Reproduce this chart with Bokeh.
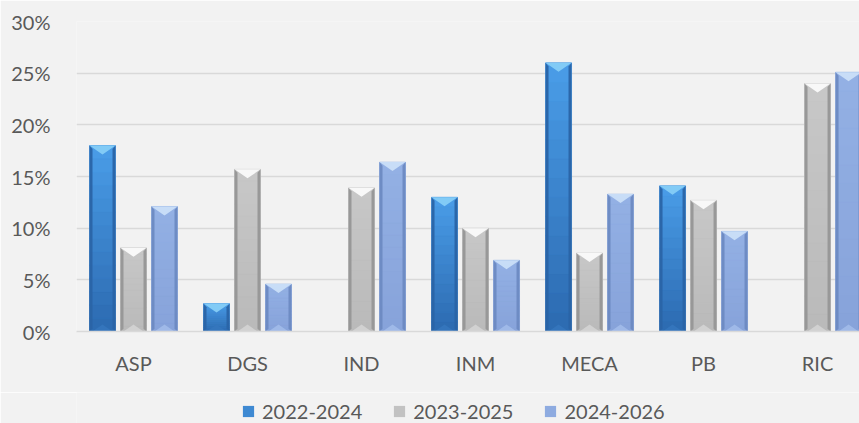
import numpy as np
from bokeh.plotting import figure
from bokeh.layouts import column
from bokeh.models import (Range1d, FixedTicker, NumeralTickFormatter, Legend,
                          LegendItem)
from bokeh.embed import file_html
from bokeh.resources import INLINE

categories = ["ASP", "DGS", "IND", "INM", "MECA", "PB", "RIC"]
series_names = ["2022-2024", "2023-2025", "2024-2026"]
v2022 = [0.180, 0.027, 0.0, 0.130, 0.260, 0.141, 0.0]
v2023 = [0.081, 0.157, 0.139, 0.100, 0.076, 0.127, 0.240]
v2024 = [0.121, 0.046, 0.164, 0.069, 0.133, 0.097, 0.251]
y_ticks = [0.0, 0.05, 0.10, 0.15, 0.20, 0.25, 0.30]

# styles: (top colour, bottom colour, top facet, side facet, bottom facet)
styles = [
    ("#4a9de8", "#2c6ab0", "#86cdf7", "#2a64a6", "#3576bd"),
    ("#c8c8c8", "#b9b9b9", "#fbfbfb", "#969696", "#d2d2d2"),
    ("#93b0e4", "#87a3da", "#cadff8", "#6d8ac2", "#a0bbe9"),
]

FRAME_W = 783
FRAME_H = 310
X_END = 6.868
Y_END = 0.30
px_x = X_END / FRAME_W
px_y = Y_END / FRAME_H
bar_w = 26 * px_x
offsets = [-31 * px_x, 0.0, 31 * px_x]

FONT = "Lato"
TXT = "#595959"
BG = "#f2f2f2"

p = figure(width=859, height=392, output_backend="svg", toolbar_location=None,
           x_range=Range1d(0, X_END), y_range=Range1d(0, Y_END),
           min_border_left=76, min_border_right=0, min_border_top=21,
           min_border_bottom=61)
p.background_fill_color = BG
p.border_fill_color = BG
p.outline_line_color = None

p.xgrid.visible = False
p.ygrid.grid_line_color = "#d9d9d9"
p.ygrid.grid_line_width = 1.5
p.ygrid.ticker = FixedTicker(ticks=y_ticks)

p.yaxis.ticker = FixedTicker(ticks=y_ticks)
p.yaxis.formatter = NumeralTickFormatter(format="0%")
p.yaxis.axis_line_color = None
p.yaxis.major_tick_line_color = None
p.yaxis.minor_tick_line_color = None
p.yaxis.major_label_standoff = 20
p.yaxis.major_label_text_font = FONT
p.yaxis.major_label_text_font_size = "20px"
p.yaxis.major_label_text_color = TXT

p.xaxis.ticker = FixedTicker(ticks=[i + 0.5 for i in range(len(categories))])
p.xaxis.major_label_overrides = {i + 0.5: c for i, c in enumerate(categories)}
p.xaxis.axis_line_color = "#d9d9d9"
p.xaxis.axis_line_width = 1.5
p.xaxis.major_tick_line_color = None
p.xaxis.minor_tick_line_color = None
p.xaxis.major_label_standoff = 13
p.xaxis.major_label_text_font = FONT
p.xaxis.major_label_text_font_size = "20px"
p.xaxis.major_label_text_color = TXT


def mix(c1, c2, t):
    a = [int(c1[i:i + 2], 16) for i in (1, 3, 5)]
    b = [int(c2[i:i + 2], 16) for i in (1, 3, 5)]
    return "#%02x%02x%02x" % tuple(int(round(a[k] + (b[k] - a[k]) * t)) for k in range(3))


# legend strip figure (its frame is aligned with the main frame)
pl = figure(width=859, height=31, output_backend="svg", toolbar_location=None,
            x_range=Range1d(0, 1), y_range=Range1d(0, 1),
            x_axis_location=None, y_axis_location=None,
            min_border_left=0, min_border_right=0, min_border_top=0,
            min_border_bottom=0)
pl.background_fill_color = BG
pl.border_fill_color = BG
pl.outline_line_color = None
pl.xgrid.visible = False
pl.ygrid.visible = False

legend_items = []
NB = 14
for k, (name, vals) in enumerate(zip(series_names, [v2022, v2023, v2024])):
    ctop, cbot, ftop, fside, fbot = styles[k]
    xs_c = [i + 0.5 + offsets[k] for i in range(len(categories))]
    p.vbar(x=xs_c, top=vals, width=bar_w, bottom=0,
           fill_color=mix(ctop, cbot, 0.5), line_color=None)
    # off-range proxy renderer, only used to draw the legend swatch
    lr = pl.vbar(x=[-10], top=[-10], bottom=[-11], width=0.1,
                 fill_color=mix(ctop, cbot, 0.4), line_color=None)
    legend_items.append(LegendItem(label=name, renderers=[lr]))

    ql, qr, qb, qt, qc = [], [], [], [], []
    pxs, pys, pcs = [], [], []
    for x, v in zip(xs_c, vals):
        if v <= 0:
            continue
        x0, x1 = x - bar_w / 2, x + bar_w / 2
        for b in range(NB):
            y0 = v * b / NB
            y1 = v * (b + 1) / NB
            ql.append(x0); qr.append(x1); qb.append(y0); qt.append(y1)
            qc.append(mix(cbot, ctop, (b + 0.5) / NB))
        sw = 3 * px_x
        th = min(9 * px_y, v * 0.45)
        bh = min(7 * px_y, v * 0.3)
        pxs.append([x0, x0 + sw, x0 + sw, x0]); pys.append([0, bh * 0.4, v - th * 0.4, v]); pcs.append(fside)
        pxs.append([x1, x1 - sw, x1 - sw, x1]); pys.append([0, bh * 0.4, v - th * 0.4, v]); pcs.append(fside)
        pxs.append([x0, x1, x]); pys.append([v, v, v - th]); pcs.append(ftop)
        pxs.append([x0 + sw, x1 - sw, x]); pys.append([0, 0, bh]); pcs.append(fbot)
    p.quad(left=ql, right=qr, bottom=qb, top=qt, fill_color=qc, line_color=qc, line_width=0.5)
    p.patches(xs=pxs, ys=pys, fill_color=pcs, line_color=None, fill_alpha=0.95)

legend = Legend(items=legend_items, orientation="horizontal", location=(165, 0))
legend.background_fill_alpha = 0
legend.border_line_color = None
legend.label_text_font = FONT
legend.label_text_font_size = "20px"
legend.label_text_color = TXT
legend.glyph_width = 14
legend.glyph_height = 14
legend.label_standoff = 7
legend.spacing = 30
legend.margin = 0
legend.padding = 0
pl.add_layout(legend, "center")

layout = column(p, pl, spacing=0)
open("out.html", "w").write(file_html(layout, INLINE))
